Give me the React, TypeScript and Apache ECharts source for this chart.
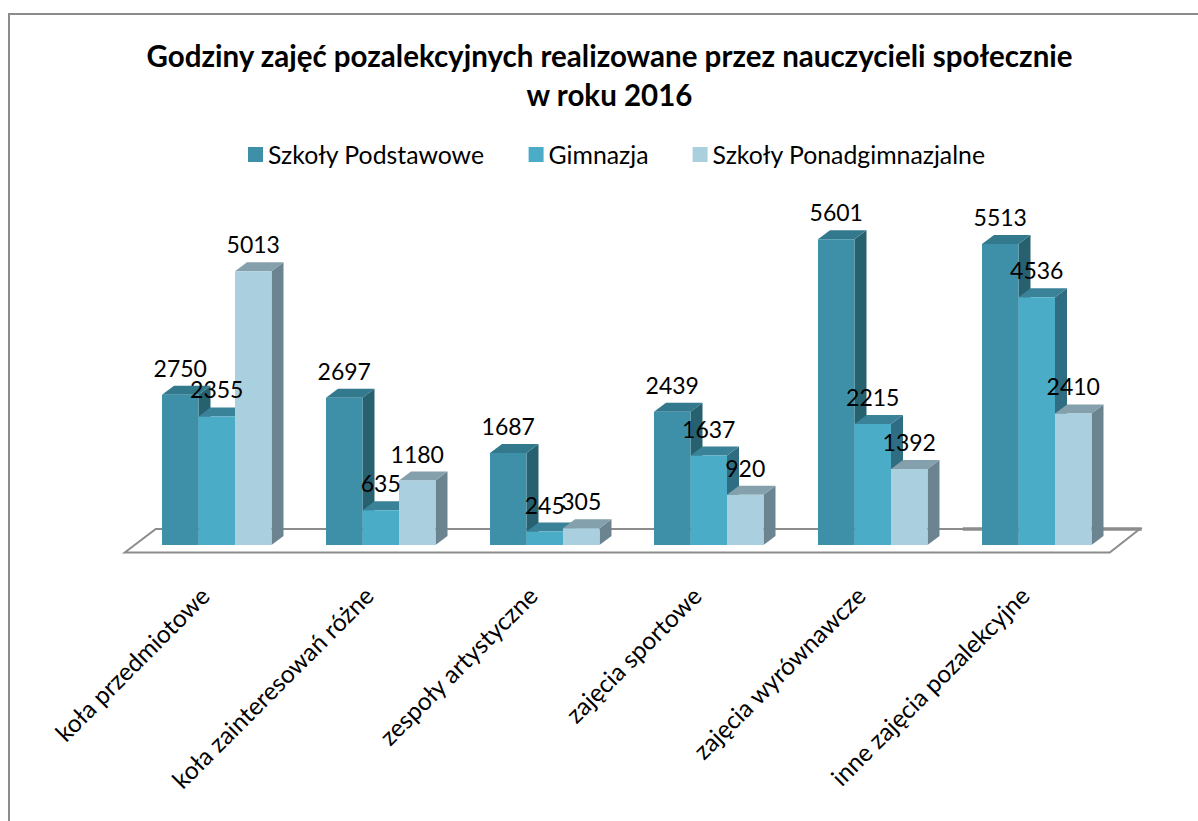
import React, { useEffect, useRef } from "react";
import * as echarts from "echarts";

const categories = [
  "koła przedmiotowe",
  "koła zainteresowań różne",
  "zespoły artystyczne",
  "zajęcia sportowe",
  "zajęcia wyrównawcze",
  "inne zajęcia pozalekcyjne",
];
const szkolyPodstawowe = [2750, 2697, 1687, 2439, 5601, 5513];
const gimnazja = [2355, 635, 245, 1637, 2215, 4536];
const ponadgimnazjalne = [5013, 1180, 305, 920, 1392, 2410];
const seriesNames = ["Szkoły Podstawowe", "Gimnazja", "Szkoły Ponadgimnazjalne"];
const seriesValues = [szkolyPodstawowe, gimnazja, ponadgimnazjalne];
const titleLines = "Godziny zajęć pozalekcyjnych realizowane przez nauczycieli społecznie\nw roku 2016";
const palette = [
  { front: "#3e8fa8", top: "#33798e", side: "#27606f" },
  { front: "#4bacc8", top: "#3a8298", side: "#2f6e82" },
  { front: "#aacfdf", top: "#83a0ac", side: "#6c848f" },
];
const FONT = "Lato";
const DEPTH_X = 12;
const DEPTH_Y = 9;

function bar3d(seriesIndex: number) {
  return (params: any, api: any) => {
    const cat = api.value(0);
    const val = api.value(1);
    const base = api.coord([cat, 0]);
    const top = api.coord([cat, val]);
    const w = api.size([1, 0])[0] * 0.2226;
    const x0 = base[0] - 1.5 * w + seriesIndex * w;
    const x1 = x0 + w;
    const c = palette[seriesIndex];
    return {
      type: "group",
      children: [
        {
          type: "polygon",
          shape: { points: [[x1, top[1]], [x1 + DEPTH_X, top[1] - DEPTH_Y], [x1 + DEPTH_X, base[1] - DEPTH_Y], [x1, base[1]]] },
          style: { fill: c.side },
        },
        {
          type: "polygon",
          shape: { points: [[x0, top[1]], [x0 + DEPTH_X, top[1] - DEPTH_Y], [x1 + DEPTH_X, top[1] - DEPTH_Y], [x1, top[1]]] },
          style: { fill: c.top },
        },
        {
          type: "rect",
          shape: { x: x0, y: top[1], width: w, height: base[1] - top[1] },
          style: { fill: c.front },
        },
      ],
    };
  };
}

function labels3d(seriesIndex: number) {
  return (params: any, api: any) => {
    const cat = api.value(0);
    const val = api.value(1);
    const base = api.coord([cat, 0]);
    const top = api.coord([cat, val]);
    const w = api.size([1, 0])[0] * 0.2226;
    const cx = base[0] - w + seriesIndex * w;
    return {
      type: "text",
      style: {
        x: cx,
        y: top[1] - 27,
        text: String(val),
        fill: "#000",
        font: `23px ${FONT}`,
        align: "center",
        verticalAlign: "middle",
      },
      z2: 100,
    };
  };
}

function floor(params: any, api: any) {
  const left = api.coord([0, 0]);
  const right = api.coord([categories.length - 1, 0]);
  const y = left[1];
  const xL = left[0];
  const xR = right[0];
  const lineStyle = { stroke: "#8c8c8c", lineWidth: 2, fill: "none" };
  return {
    type: "group",
    children: [
      {
        type: "polygon",
        shape: { points: [[xL - 92, y + 7.5], [xL - 61, y - 16], [xR + 103, y - 16], [xR + 73, y + 7.5]] },
        style: { fill: "#fff", stroke: "#8c8c8c", lineWidth: 2 },
      },
      {
        type: "line",
        shape: { x1: xR - 74, y1: y - 16, x2: xR + 105, y2: y - 16 },
        style: { ...lineStyle, lineWidth: 3.5 },
      },
    ],
  };
}

export default function App() {
  const ref = useRef<HTMLDivElement>(null);
  useEffect(() => {
    document.body.style.margin = "0";
    document.body.style.overflow = "hidden";
    const chart = echarts.init(ref.current!, undefined, { renderer: "svg" });
    const bars = seriesNames.map((name, s) => ({
      name,
      type: "custom",
      renderItem: bar3d(s),
      itemStyle: { color: palette[s].front },
      encode: { x: 0, y: 1 },
      data: seriesValues[s].map((v, i) => [i, v]),
      z: 3,
      silent: true,
      clip: false,
    }));
    const texts = seriesNames.map((name, s) => ({
      name: name + " etykiety",
      type: "custom",
      renderItem: labels3d(s),
      encode: { x: 0, y: 1 },
      data: seriesValues[s].map((v, i) => [i, v]),
      z: 4,
      silent: true,
      clip: false,
    }));
    chart.setOption({
      animation: false,
      backgroundColor: "#fff",
      title: {
        text: titleLines,
        left: 604.5,
        top: 31,
        textAlign: "center",
        textStyle: { fontFamily: FONT, fontWeight: "bold", fontSize: 29.5, lineHeight: 39, color: "#000" },
      },
      legend: {
        data: seriesNames,
        left: 248,
        top: 142,
        padding: 0,
        itemWidth: 15,
        itemHeight: 15,
        itemGap: 44,
        icon: "rect",
        selectedMode: false,
        textStyle: { fontFamily: FONT, fontSize: 24.8, color: "#000" },
      },
      grid: { left: 134.75, width: 984, top: 217.4, height: 327.6, containLabel: false },
      xAxis: {
        type: "category",
        data: categories,
        axisLine: { show: false },
        axisTick: { show: false },
        splitLine: { show: false },
        axisLabel: {
          interval: 0,
          rotate: 45,
          margin: 34,
          padding: [0, 17, 0, 0],
          fontFamily: FONT,
          fontSize: 24.5,
          color: "#000",
        },
      },
      yAxis: { type: "value", min: 0, max: 6000, show: false, splitLine: { show: false } },
      graphic: [
        {
          type: "polyline",
          shape: { points: [[9, 821], [9, 14], [1198, 14]] },
          style: { stroke: "#8c8c8c", lineWidth: 2, fill: "none" },
          silent: true,
        },
      ],
      series: [
        {
          name: "podłoga",
          type: "custom",
          renderItem: floor,
          data: [[0, 0]],
          encode: { x: 0, y: 1 },
          z: 1,
          silent: true,
          clip: false,
        },
        ...bars,
        ...texts,
      ],
    });
    return () => chart.dispose();
  }, []);
  return <div ref={ref} style={{ position: "absolute", left: 0, top: 0, width: 1198, height: 821 }} />;
}
